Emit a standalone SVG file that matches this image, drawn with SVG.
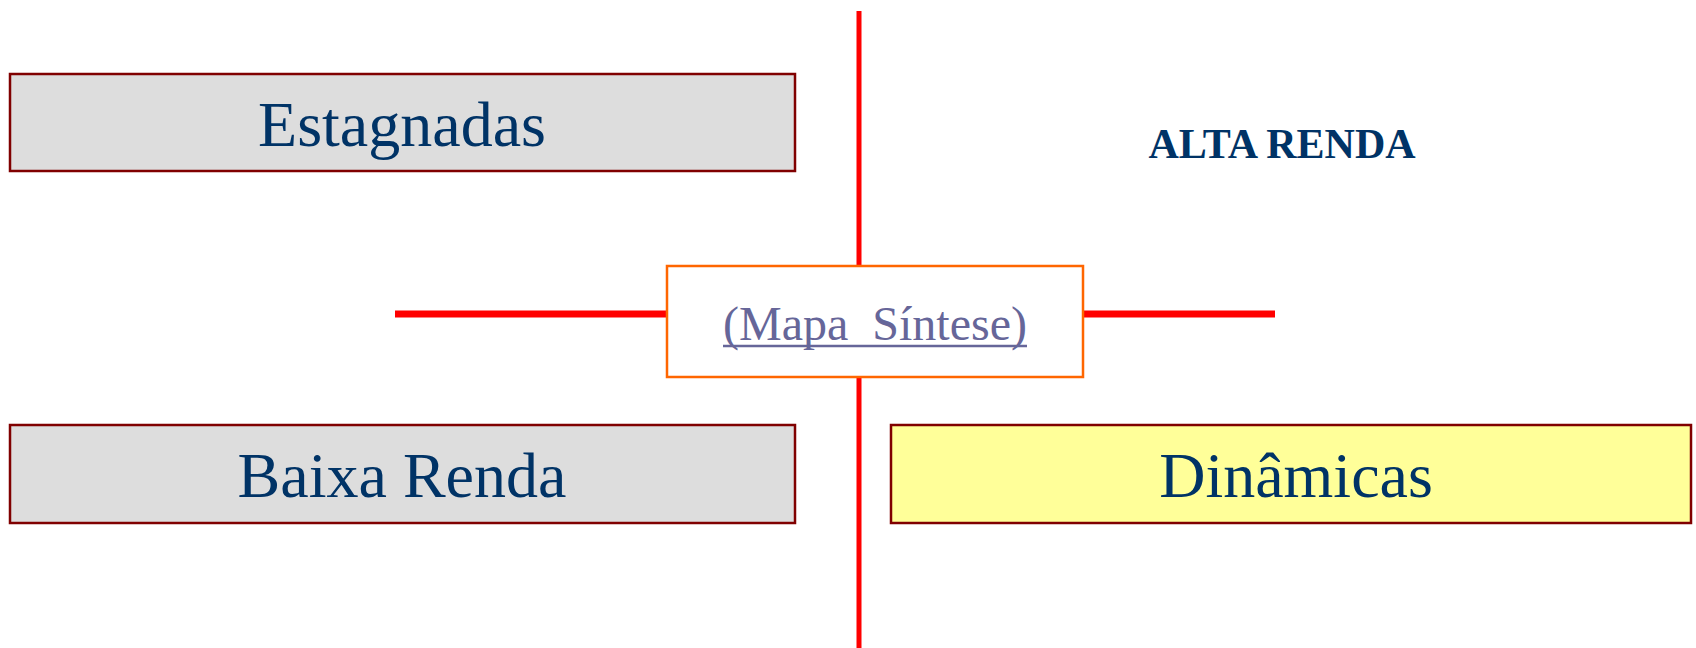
<svg xmlns="http://www.w3.org/2000/svg" width="1696" height="648" viewBox="0 0 1696 648">
<style>
.box{fill:#DDDDDD;stroke:#800000;stroke-width:2.5}
.yel{fill:#FFFF99;stroke:#800000;stroke-width:2.5}
.lbl{font-family:"Liberation Serif","Times New Roman",serif;font-size:64px;fill:#003366;text-anchor:middle}
.axis{stroke:#FF0000;fill:none}
</style>
<rect width="1696" height="648" fill="#FFFFFF"/>
<g id="connectors">
<line class="axis" x1="859" y1="11" x2="859" y2="648" stroke-width="5"/>
<line class="axis" x1="395" y1="314" x2="666" y2="314" stroke-width="7"/>
<line class="axis" x1="1083" y1="314" x2="1275" y2="314" stroke-width="7"/>
</g>
<g id="estagnadas">
<rect class="box" x="10" y="74" width="785" height="97"/>
<text class="lbl" x="402" y="146">Estagnadas</text>
</g>
<g id="alta-renda">
<text x="1282" y="158" font-family="Liberation Serif,Times New Roman,serif" font-size="42" font-weight="bold" fill="#003366" text-anchor="middle">ALTA RENDA</text>
</g>
<g id="mapa-sintese">
<rect x="667" y="266" width="416" height="111" fill="#FFFFFF" stroke="#FF6600" stroke-width="2.5"/>
<text x="875" y="340" font-family="Liberation Serif,Times New Roman,serif" font-size="48" fill="#666699" text-anchor="middle" style="white-space:pre" xml:space="preserve">(Mapa  Síntese)</text>
<line x1="723" y1="346" x2="1027" y2="346" stroke="#666699" stroke-width="2.5"/>
</g>
<g id="baixa-renda">
<rect class="box" x="10" y="425" width="785" height="98"/>
<text class="lbl" x="402" y="497">Baixa Renda</text>
</g>
<g id="dinamicas">
<rect class="yel" x="891" y="425" width="800" height="98"/>
<text class="lbl" x="1296" y="497">Dinâmicas</text>
</g>
</svg>
